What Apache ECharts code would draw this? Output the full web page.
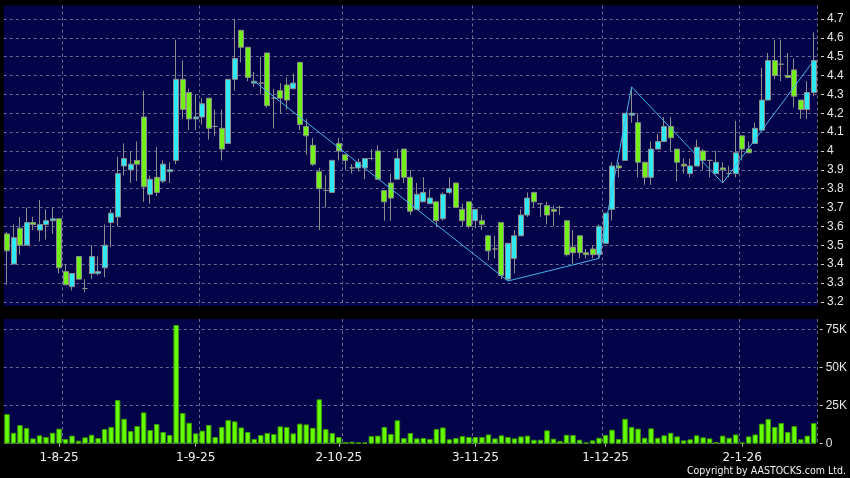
<!DOCTYPE html>
<html><head><meta charset="utf-8">
<script src="https://cdn.jsdelivr.net/npm/echarts@6/dist/echarts.min.js"></script>
<style>html,body{margin:0;padding:0;background:#000;}#c{width:850px;height:478px;}</style>
</head><body><div id="c"></div>
<script>
const dates = [
'22-7-25','23-7-25','24-7-25','25-7-25','28-7-25','29-7-25','30-7-25','31-7-25',
'1-8-25','4-8-25','5-8-25','6-8-25','7-8-25','8-8-25','11-8-25','12-8-25','13-8-25','14-8-25','15-8-25','18-8-25','19-8-25','20-8-25','21-8-25','22-8-25','25-8-25','26-8-25','27-8-25','28-8-25','29-8-25',
'1-9-25','2-9-25','3-9-25','4-9-25','5-9-25','8-9-25','9-9-25','10-9-25','11-9-25','12-9-25','15-9-25','16-9-25','17-9-25','18-9-25','19-9-25','22-9-25','23-9-25','24-9-25','25-9-25','26-9-25','29-9-25','30-9-25',
'2-10-25','3-10-25','6-10-25','8-10-25','9-10-25','10-10-25','13-10-25','14-10-25','15-10-25','16-10-25','17-10-25','20-10-25','21-10-25','22-10-25','23-10-25','24-10-25','27-10-25','28-10-25','30-10-25','31-10-25',
'3-11-25','4-11-25','5-11-25','6-11-25','7-11-25','10-11-25','11-11-25','12-11-25','13-11-25','14-11-25','17-11-25','18-11-25','19-11-25','20-11-25','21-11-25','24-11-25','25-11-25','26-11-25','27-11-25','28-11-25',
'1-12-25','2-12-25','3-12-25','4-12-25','5-12-25','8-12-25','9-12-25','10-12-25','11-12-25','12-12-25','15-12-25','16-12-25','17-12-25','18-12-25','19-12-25','22-12-25','23-12-25','24-12-25','29-12-25','30-12-25','31-12-25',
'2-1-26','5-1-26','6-1-26','7-1-26','8-1-26','9-1-26','12-1-26','13-1-26','14-1-26','15-1-26','16-1-26','19-1-26','20-1-26'
];
const opens = [
3.56,3.40,3.59,3.50,3.62,3.58,3.61,3.63,3.64,3.36, 3.28,3.44,3.27,3.35,3.35,3.38,3.62,3.65,3.92,3.90,
3.95,4.18,3.77,3.86,3.84,3.89,3.95,4.38,4.31,4.17, 4.18,4.28,4.13,4.12,4.04,4.38,4.64,4.55,4.36,4.36,
4.52,4.28,4.32,4.35,4.33,4.47,4.13,4.03,3.89,3.79, 3.78,4.04,3.98,3.91,3.91,3.91,3.96,4.00,3.79,3.83,
3.85,4.01,3.86,3.69,3.73,3.72,3.73,3.64,3.78,3.83, 3.69,3.73,3.63,3.63,3.55,3.48,3.62,3.32,3.43,3.55,
3.66,3.78,3.72,3.71,3.69,3.70,3.63,3.49,3.55,3.46, 3.48,3.45,3.51,3.69,3.92,3.95,4.19,4.15,3.94,3.86,
4.01,4.05,4.13,4.01,3.93,3.88,3.92,4.00,3.95,3.88, 3.91,3.88,3.88,4.08,4.01,4.04,4.11,4.27,4.48,4.46,
4.40,4.43,4.27,4.22,4.31
];
const closes = [
3.47,3.54,3.50,3.62,3.61,3.61,3.63,3.64,3.38,3.29, 3.35,3.32,3.27,3.44,3.36,3.50,3.67,3.88,3.96,3.93,
3.93,3.81,3.85,3.78,3.93,3.90,4.38,4.22,4.17,4.18, 4.25,4.12,4.13,4.01,4.38,4.49,4.55,4.39,4.37,4.36,
4.24,4.28,4.28,4.27,4.36,4.14,4.08,3.93,3.80,3.79, 3.95,4.00,3.95,3.91,3.94,3.96,3.96,3.85,3.73,3.75,
3.96,3.86,3.68,3.77,3.78,3.75,3.63,3.77,3.80,3.70, 3.63,3.60,3.69,3.61,3.47,3.48,3.34,3.51,3.55,3.66,
3.75,3.73,3.72,3.66,3.68,3.70,3.45,3.46,3.46,3.45, 3.45,3.60,3.67,3.92,3.91,4.20,4.20,3.94,3.86,4.01,
4.05,4.13,4.07,3.94,3.92,3.92,4.02,3.95,3.95,3.94, 3.90,3.88,3.99,4.01,3.99,4.12,4.27,4.48,4.40,4.46,
4.39,4.29,4.22,4.31,4.48
];
const lows = [
3.29,3.40,3.45,3.50,3.58,3.52,3.53,3.56,3.35,3.29, 3.26,3.32,3.25,3.32,3.34,3.33,3.49,3.60,3.87,3.83,
3.84,3.73,3.72,3.76,3.83,3.83,3.93,4.17,4.11,4.11, 4.14,4.06,4.08,3.95,4.04,4.32,4.47,4.37,4.34,4.30,
4.23,4.12,4.20,4.22,4.33,4.11,3.98,3.92,3.58,3.70, 3.78,3.95,3.90,3.88,3.89,3.85,3.95,3.85,3.63,3.63,
3.85,3.83,3.66,3.69,3.73,3.72,3.60,3.63,3.77,3.70, 3.60,3.59,3.59,3.58,3.42,3.43,3.32,3.31,3.35,3.55,
3.65,3.70,3.65,3.61,3.60,3.66,3.44,3.40,3.43,3.43, 3.43,3.43,3.51,3.63,3.86,3.95,4.15,3.86,3.82,3.82,
4.01,4.05,4.00,3.84,3.88,3.86,3.92,3.90,3.86,3.88, 3.83,3.86,3.86,3.95,3.99,4.04,4.11,4.27,4.38,4.37,
4.39,4.23,4.17,4.17,4.29
];
const highs = [
3.57,3.61,3.65,3.70,3.65,3.74,3.69,3.70,3.64,3.40, 3.35,3.44,3.32,3.50,3.44,3.61,3.69,3.97,4.04,4.00,
4.05,4.32,3.87,4.02,3.95,3.94,4.59,4.48,4.33,4.30, 4.28,4.28,4.22,4.22,4.38,4.70,4.64,4.55,4.42,4.50,
4.52,4.33,4.36,4.39,4.41,4.47,4.17,4.07,3.91,3.87, 3.95,4.07,3.98,3.93,3.96,3.96,4.01,4.03,3.79,3.88,
4.01,4.01,3.90,3.83,3.86,3.80,3.73,3.78,3.86,3.83, 3.72,3.73,3.69,3.66,3.55,3.55,3.62,3.51,3.58,3.69,
3.78,3.78,3.72,3.73,3.71,3.71,3.63,3.58,3.55,3.48, 3.50,3.61,3.67,3.94,3.94,4.20,4.34,4.20,3.94,4.05,
4.09,4.18,4.18,4.01,3.96,3.96,4.06,4.01,3.95,4.00, 3.94,3.92,4.16,4.08,4.05,4.15,4.44,4.52,4.59,4.59,
4.52,4.49,4.27,4.37,4.63
];
const volumeK = [
19.5,7.2,12.3,10.3,3.5,5.5,4.4,7.2,9.9,3.1, 5.3,2.0,4.2,5.9,3.7,9.6,11.0,28.7,16.4,8.3,
11.6,20.6,9.0,12.9,7.7,5.7,78.1,20.2,13.8,6.8, 8.6,12.3,4.4,11.0,15.6,14.7,10.7,7.7,3.1,5.7,
7.0,6.4,11.4,11.0,6.8,13.2,12.7,10.5,29.2,9.6, 7.0,4.4,1.1,1.3,0.9,0.9,5.0,5.3,11.0,6.4,
15.4,3.7,7.0,3.5,3.7,3.1,9.6,10.7,2.9,3.7, 5.0,4.4,4.4,4.4,6.1,3.5,5.5,4.4,3.5,4.8,
5.3,2.6,2.6,8.8,3.3,1.8,5.9,5.7,2.6,0.9, 2.2,3.9,5.7,9.2,3.1,16.4,11.0,9.9,3.9,10.1,
3.9,5.5,7.2,4.8,2.2,2.9,5.5,4.2,3.5,1.1, 5.3,3.9,6.1,0.9,4.8,6.1,13.2,16.2,11.0,13.6,
7.7,11.6,2.9,5.3,13.6
];
const zigzagIndex = [38, 77, 91, 96, 110, 124];
const zigzagValue = [4.37, 3.31, 3.43, 4.34, 3.83, 4.48];
const priceMin = 3.2, priceMax = 4.7, priceStep = 0.1;
const volMax = 75, volStep = 25;
const tickLabels = ['1-8-25','1-9-25','2-10-25','3-11-25','1-12-25','2-1-26'];
const tickLabelIndex = [8, 29, 51, 72, 92, 113];
const monthLineIndex = [9, 30, 52, 72, 92, 113];

const candleData = opens.map((o, i) => [o, closes[i], lows[i], highs[i]]);
const zigzagData = dates.map(() => null);
zigzagIndex.forEach((ix, j) => { zigzagData[ix] = zigzagValue[j]; });

const L = 3.75, W = 813.25;
const pxPerPrice = 188.5;
const pTop = 5.5, pBot = 306, pLblTop = 19, pLblBot = 301.75;
const vTop = 319, vBot = 443.7, vLblTop = 329.7;
const pxPerK = 38 / 25;
const navy = '#03034a';
const gridLine = { show: true, lineStyle: { color: '#6a6a90', type: [3, 3], width: 1 } };
const vLine = { show: true, interval: (i) => monthLineIndex.includes(i), lineStyle: { color: '#6a6a90', type: [3, 3], width: 1 } };
const labelFont = { color: '#e6e6e6', fontFamily: 'Liberation Sans', fontSize: 12 };

const chart = echarts.init(document.getElementById('c'), null, { renderer: 'canvas' });
chart.setOption({
  animation: false,
  backgroundColor: '#000',
  grid: [
    { left: L, width: W, top: pTop, height: pBot - pTop, show: true, backgroundColor: navy, borderWidth: 0 },
    { left: L, width: W, top: pLblTop, height: pLblBot - pLblTop, show: false },
    { left: L, width: W, top: vTop, height: vBot - vTop, show: true, backgroundColor: navy, borderWidth: 0 },
    { left: L, width: W, top: vLblTop, height: vBot - vLblTop, show: false }
  ],
  xAxis: [
    { type: 'category', gridIndex: 0, data: dates, boundaryGap: true, axisLine: { show: false }, axisTick: { show: false }, axisLabel: { show: false }, splitLine: vLine },
    { type: 'category', gridIndex: 1, data: dates, show: false },
    { type: 'category', gridIndex: 2, data: dates, boundaryGap: true, offset: 3, axisLine: { show: false },
      axisTick: { show: true, alignWithLabel: true, length: 3, interval: (i) => tickLabelIndex.includes(i), lineStyle: { color: '#bbbbbb' } },
      axisLabel: { show: true, interval: (i) => tickLabelIndex.includes(i), formatter: (v, i) => tickLabels[tickLabelIndex.indexOf(i)], color: '#f0f0f0', fontFamily: 'DejaVu Sans', fontSize: 12, margin: 5 },
      splitLine: vLine },
    { type: 'category', gridIndex: 3, data: dates, show: false }
  ],
  yAxis: [
    { type: 'value', gridIndex: 0, show: false, min: priceMin - (pBot - pLblBot) / pxPerPrice, max: priceMax + (pLblTop - pTop) / pxPerPrice, splitLine: { show: false } },
    { type: 'value', gridIndex: 1, position: 'right', offset: 4, min: priceMin, max: priceMax, interval: priceStep,
      axisLine: { show: false }, axisTick: { show: true, length: 3, lineStyle: { color: '#cccccc' } },
      axisLabel: Object.assign({ margin: 6, formatter: (v) => String(Math.round(v * 10) / 10) }, labelFont), splitLine: gridLine },
    { type: 'value', gridIndex: 2, show: false, min: 0, max: (vBot - vTop) / pxPerK, splitLine: { show: false } },
    { type: 'value', gridIndex: 3, position: 'right', offset: 4, min: 0, max: volMax, interval: volStep,
      axisLine: { show: false }, axisTick: { show: true, length: 3, lineStyle: { color: '#cccccc' } },
      axisLabel: Object.assign({ margin: 6, formatter: (v) => v === 0 ? '0' : v + 'K' }, labelFont), splitLine: gridLine }
  ],
  series: [
    { type: 'candlestick', xAxisIndex: 0, yAxisIndex: 0, data: candleData, barWidth: 5.5,
      itemStyle: { color: '#2fe8f8', color0: '#72f01a', borderColor: '#8c8c8c', borderColor0: '#8c8c8c', borderColorDoji: '#8c8c8c', borderWidth: 1 } },
    { type: 'line', xAxisIndex: 0, yAxisIndex: 0, data: zigzagData, connectNulls: true, symbol: 'none',
      lineStyle: { color: '#45b4e8', width: 1 } },
    { type: 'bar', xAxisIndex: 2, yAxisIndex: 2, data: volumeK, barWidth: 5.5,
      itemStyle: { color: '#66ff00', borderColor: '#3a9a00', borderWidth: 1 } }
  ],
  graphic: [
    { type: 'text', right: 4, top: 466, style: { text: 'Copyright by AASTOCKS.com Ltd.', fill: '#f0f0f0', font: '10.5px "DejaVu Sans Condensed", "Liberation Sans Narrow", sans-serif' } }
  ]
});
</script></body></html>
